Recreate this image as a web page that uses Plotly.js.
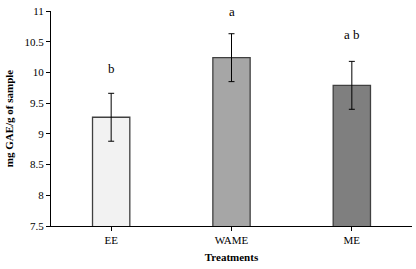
<!DOCTYPE html>
<html><head><meta charset="utf-8">
<script src="https://cdn.plot.ly/plotly-3.0.1.min.js"></script>
<style>html,body{margin:0;padding:0;background:#fff}#chart{width:416px;height:269px}</style>
</head><body><div id="chart"></div>
<script>
const categories = ["EE", "WAME", "ME"];
const values = [9.27, 10.24, 9.79];
const errors = [0.39, 0.39, 0.39];
const letters = ["b", "a", "a b"];
const letterY = [10.06, 11.0, 10.61];
const colors = ["#f2f2f2", "#a6a6a6", "#7f7f7f"];
const yTicks = [7.5, 8, 8.5, 9, 9.5, 10, 10.5, 11];

const font = "Liberation Serif, Times New Roman, serif";
const trace = {
  type: "bar", x: categories, y: values,
  marker: {color: colors, line: {color: "#404040", width: 1.3}},
  error_y: {type: "data", array: errors, visible: true, color: "#000", thickness: 1, width: 3},
  width: 0.31, hoverinfo: "none"
};
const layout = {
  width: 416, height: 269,
  margin: {l: 51, r: 4, t: 11, b: 43},
  paper_bgcolor: "#fff", plot_bgcolor: "#fff",
  showlegend: false,
  font: {family: font, size: 11, color: "#000"},
  xaxis: {
    showline: true, linecolor: "#000", linewidth: 1,
    ticks: "outside", ticklen: 4, tickcolor: "#000",
    tickfont: {family: font, size: 11},
    title: {text: "<b>Treatments</b>", font: {family: font, size: 11}, standoff: 8}
  },
  yaxis: {
    range: [7.5, 11], tickvals: yTicks, ticktext: yTicks.map(String),
    showline: true, linecolor: "#000", linewidth: 1, showgrid: false, zeroline: false,
    ticks: "outside", ticklen: 4, tickcolor: "#000",
    tickfont: {family: font, size: 11},
    title: {text: "<b>mg GAE/g of sample</b>", font: {family: font, size: 11}, standoff: 8}
  },
  annotations: categories.map((c, i) => ({
    x: c, y: letterY[i], text: letters[i], showarrow: false,
    font: {family: font, size: 13, color: "#000"}, xanchor: "center", yanchor: "middle"
  }))
};
Plotly.newPlot("chart", [trace], layout, {displayModeBar: false, staticPlot: true});
</script></body></html>
